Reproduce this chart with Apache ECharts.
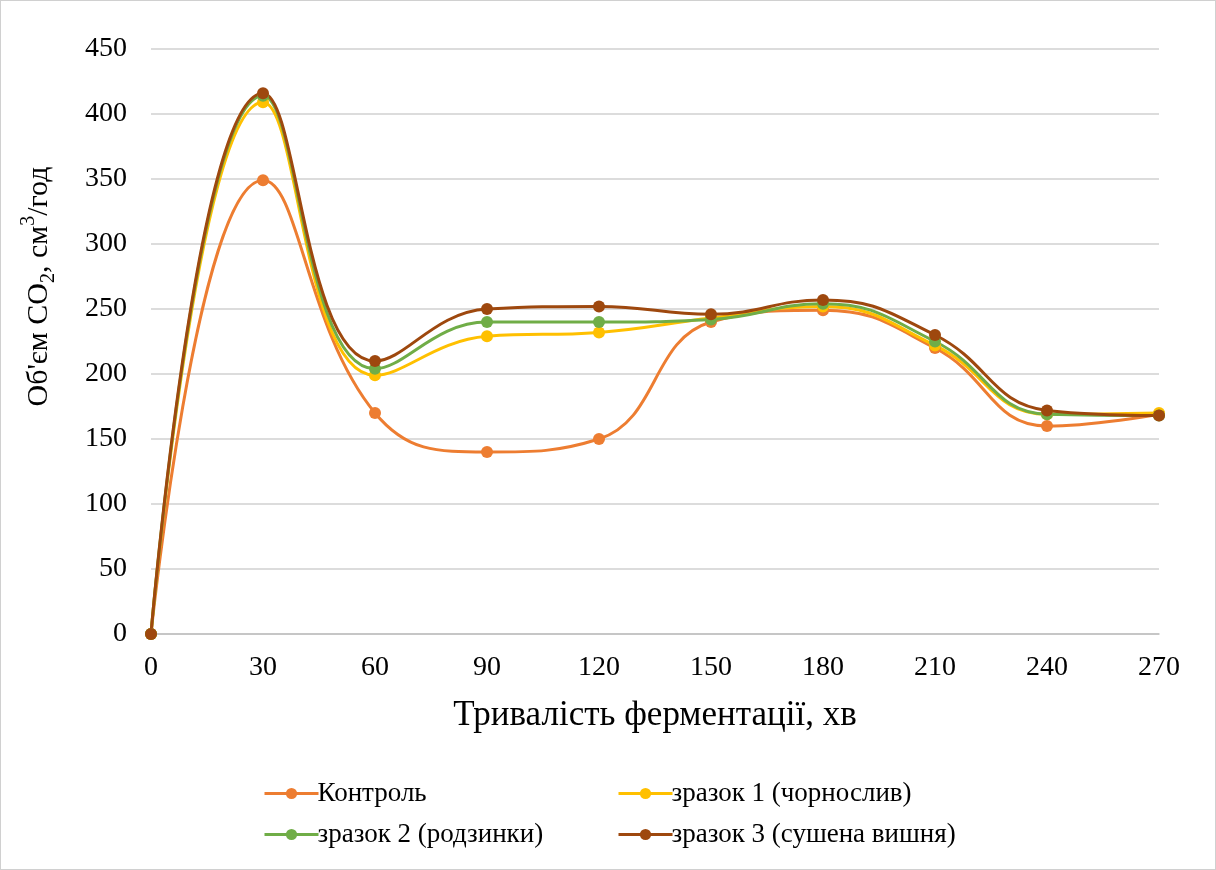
<!DOCTYPE html>
<html><head><meta charset="utf-8">
<script src="https://cdn.jsdelivr.net/npm/echarts@6/dist/echarts.min.js"></script>
<style>html,body{margin:0;padding:0;background:#fff}#c{width:1216px;height:870px;box-sizing:border-box;border:1px solid #d0d0d0}</style>
</head><body><div id="c"></div>
<script>
const xValues = [0, 30, 60, 90, 120, 150, 180, 210, 240, 270];
const control = [0, 349, 170, 140, 150, 240, 249, 220, 160, 169];
const sample1 = [0, 409, 199, 229, 232, 243, 252, 222, 169, 170];
const sample2 = [0, 414, 204, 240, 240, 242, 254, 225, 169, 168];
const sample3 = [0, 416, 210, 250, 252, 246, 257, 230, 172, 168];
const names = ['Контроль', 'зразок 1 (чорнослив)', 'зразок 2 (родзинки)', 'зразок 3 (сушена вишня)'];
const colors = ['#ED7D31', '#FFC000', '#70AD47', '#9E480E'];
const font = 'Liberation Serif';
const chart = echarts.init(document.getElementById('c'));
const mk = (i, arr) => ({
  name: names[i], type: 'line', smooth: 0.45,
  data: xValues.map((x, k) => [x, arr[k]]),
  symbol: 'circle', symbolSize: 12,
  lineStyle: { width: 3, color: colors[i] },
  itemStyle: { color: colors[i] }
});
const legendBase = {
  orient: 'vertical', top: 774, itemGap: 14, itemWidth: 54, itemHeight: 14,
  lineStyle: { width: 3 },
  textStyle: { fontFamily: font, fontSize: 27, color: '#000', padding: [0, 0, 0, -6] }
};
chart.setOption({
  animation: false,
  grid: { left: 150, right: 56, top: 48, bottom: 235 },
  xAxis: {
    type: 'value', min: 0, max: 270, interval: 30,
    name: 'Тривалість ферментації, хв', nameLocation: 'middle', nameGap: 64,
    nameTextStyle: { fontFamily: font, fontSize: 35, color: '#000' },
    axisLine: { lineStyle: { color: '#bfbfbf', width: 1.5 } },
    axisTick: { show: false },
    splitLine: { show: false },
    axisLabel: { fontFamily: font, fontSize: 28, color: '#000', margin: 20 }
  },
  yAxis: {
    type: 'value', min: 0, max: 450, interval: 50,
    name: '{m|Об\'єм CO}{sub|2}{m|, см}{sup|3}{m|/год}', nameLocation: 'middle', nameGap: 92,
    nameTextStyle: {
      fontFamily: font, fontSize: 30, color: '#000', padding: [0, 0, 0, 110],
      rich: {
        m: { fontFamily: font, fontSize: 30, lineHeight: 40, color: '#000' },
        sub: { fontFamily: font, fontSize: 20, lineHeight: 20, verticalAlign: 'bottom', color: '#000' },
        sup: { fontFamily: font, fontSize: 20, lineHeight: 20, verticalAlign: 'top', color: '#000' }
      }
    },
    axisLine: { show: false }, axisTick: { show: false },
    splitLine: { lineStyle: { color: '#d0d0d0', width: 1.5 } },
    axisLabel: { fontFamily: font, fontSize: 28, color: '#000', margin: 24 }
  },
  legend: [
    Object.assign({}, legendBase, { left: 257, data: [names[0], names[2]] }),
    Object.assign({}, legendBase, { left: 611, data: [names[1], names[3]] })
  ],
  series: [mk(0, control), mk(1, sample1), mk(2, sample2), mk(3, sample3)]
});
</script></body></html>
